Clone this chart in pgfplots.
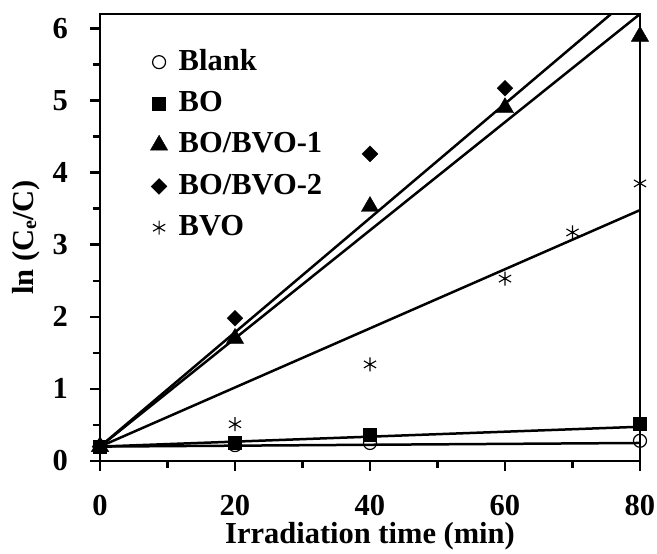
\documentclass[border=0pt]{standalone}
\usepackage{pgfplots}
\pgfplotsset{compat=1.18}
\usepackage{fontspec}
\setmainfont{Liberation Serif}
\newcommand{\bigf}{\fontsize{30.5}{34}\selectfont\bfseries}
\begin{document}
\bigf
\begin{tikzpicture}
\useasboundingbox (-100pt,-93pt) rectangle (557pt,461pt);
\begin{axis}[
  at={(0,0)}, anchor=south west,
  scale only axis,
  width=540pt, height=447pt,
  xmin=0, xmax=80, ymin=0, ymax=6.2,
  xtick={0,20,40,60,80}, ytick={0,1,2,3,4,5,6},
  minor x tick num=1, minor y tick num=1,
  tick pos=left, tick align=outside,
  major tick length=10pt, minor tick length=7pt,
  every tick/.style={line width=2.5pt, black},
  every minor tick/.style={line width=2.5pt, black},
  axis line style={line width=2.5pt},
  /pgf/number format/assume math mode=true,
  font=\bigf,
  ticklabel style={font=\bigf, inner sep=0pt},
  xticklabel style={yshift=-24pt},
  yticklabel={\pgfmathprintnumber{\tick}\hspace*{22pt}},
  xlabel={Irradiation time (min)},
  ylabel={ln (C{\fontsize{20}{21}\selectfont\raisebox{-0.3ex}{e}}/C)},
  label style={font=\bigf, inner sep=0pt},
  xlabel style={at={(axis description cs:0.5,0)}, anchor=base, yshift=-83pt},
  ylabel style={at={(axis description cs:-0.111,0.5)}, anchor=south},
  legend style={draw=none, fill=none, inner sep=0pt,
    at={(axis description cs:0.093,0.926)}, anchor=north west,
    row sep=12.5pt, column sep=9pt, cells={anchor=west}},
  legend cell align=left,
  clip=true,
]
\addplot[only marks, mark=o, mark size=6.5pt, mark options={line width=1.2pt, fill=white}] coordinates {(0,0.2) (20,0.22) (40,0.25) (80,0.28)};
\addlegendentry{\bigf Blank}
\addplot[only marks, mark=square*, mark size=6.5pt] coordinates {(0,0.2) (20,0.26) (40,0.36) (80,0.52)};
\addlegendentry{\bigf BO}
\addplot[only marks, mark=triangle*, mark size=10pt] coordinates {(0,0.2) (20,1.70) (40,3.53) (60,4.90) (80,5.89)};
\addlegendentry{\bigf BO/BVO-1}
\addplot[only marks, mark=square*, mark size=5.6pt, mark options={rotate=45}] coordinates {(0,0.2) (20,1.98) (40,4.26) (60,5.17)};
\addlegendentry{\bigf BO/BVO-2}
\addplot[only marks, mark=asterisk, mark size=7pt, mark options={line width=1.1pt}] coordinates {(0,0.2) (20,0.51) (40,1.34) (60,2.53) (70,3.17) (80,3.85)};
\addlegendentry{\bigf BVO}
\addplot[line width=2.5pt, forget plot] coordinates {(0,0.2) (80,0.25)};
\addplot[line width=2.5pt, forget plot] coordinates {(0,0.2) (80,0.475)};
\addplot[line width=2.5pt, forget plot] coordinates {(0,0.2) (80,6.2)};
\addplot[line width=2.5pt, forget plot] coordinates {(0,0.2) (80,6.54)};
\addplot[line width=2.5pt, forget plot] coordinates {(0,0.2) (80,3.48)};
\end{axis}
\end{tikzpicture}
\end{document}
